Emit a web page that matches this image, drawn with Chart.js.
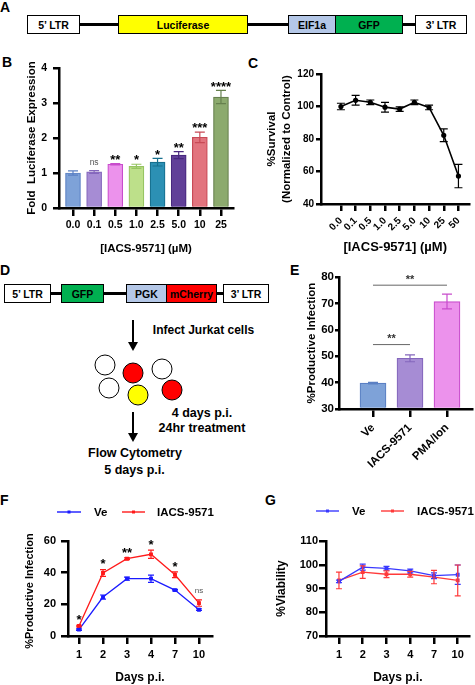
<!DOCTYPE html>
<html><head><meta charset="utf-8">
<script src="https://cdn.jsdelivr.net/npm/chart.js@4.4.0/dist/chart.umd.min.js"></script>
<style>
html,body{margin:0;padding:0;background:#fff;width:475px;height:685px;overflow:hidden;}
body{position:relative;font-family:'Liberation Sans',Arial,Helvetica,sans-serif;color:#000;}
canvas{position:absolute;}
.plab{position:absolute;font-weight:bold;font-size:14px;line-height:14px;}
.box{position:absolute;box-sizing:border-box;border:1.3px solid #000;display:flex;align-items:center;justify-content:center;font-weight:bold;font-size:10.5px;height:19px;white-space:nowrap;}
.ln{position:absolute;background:#000;}
.txt{position:absolute;font-weight:bold;font-size:12.5px;line-height:14px;white-space:nowrap;transform:translate(-50%,-50%);}
.circ{position:absolute;border:1.2px solid #000;border-radius:50%;box-sizing:border-box;width:21px;height:21px;transform:translate(-50%,-50%);}
.head{position:absolute;width:0;height:0;border-left:5px solid transparent;border-right:5px solid transparent;border-top:9px solid #000;}
</style></head><body>

<!-- Panel letters -->
<div class="plab" style="left:0;top:0">A</div>
<div class="plab" style="left:2px;top:55px">B</div>
<div class="plab" style="left:248px;top:56px">C</div>
<div class="plab" style="left:0;top:263px">D</div>
<div class="plab" style="left:290px;top:263px">E</div>
<div class="plab" style="left:0;top:493px">F</div>
<div class="plab" style="left:265px;top:493px">G</div>

<!-- Panel A construct -->
<div class="ln" style="left:80px;top:22.5px;width:335px;height:3px"></div>
<div class="box" style="left:27px;top:15px;width:53px;background:#fff">5’ LTR</div>
<div class="box" style="left:118px;top:15px;width:130px;background:#ffff00">Luciferase</div>
<div class="box" style="left:288px;top:15px;width:48px;background:#b4c7e7">EIF1a</div>
<div class="box" style="left:335px;top:15px;width:68px;background:#00b050">GFP</div>
<div class="box" style="left:415px;top:15px;width:52px;background:#fff">3’ LTR</div>

<!-- Panel D construct and workflow -->
<div class="ln" style="left:51px;top:291.5px;width:172px;height:3px"></div>
<div class="box" style="left:4px;top:284px;width:47px;background:#fff">5’ LTR</div>
<div class="box" style="left:61px;top:284px;width:43px;background:#00b050">GFP</div>
<div class="box" style="left:126px;top:284px;width:41px;background:#b4c7e7">PGK</div>
<div class="box" style="left:166px;top:284px;width:51px;background:#ff0000">mCherry</div>
<div class="box" style="left:223px;top:284px;width:46px;background:#fff">3’ LTR</div>

<div class="ln" style="left:132.2px;top:320px;width:2.2px;height:24px"></div>
<div class="head" style="left:128.3px;top:342px"></div>
<div class="txt" style="left:203.5px;top:330px;font-size:12px">Infect Jurkat cells</div>

<div class="circ" style="left:105px;top:365px;background:#fff"></div>
<div class="circ" style="left:133px;top:373px;background:#ff0000"></div>
<div class="circ" style="left:162px;top:369px;background:#fff"></div>
<div class="circ" style="left:109px;top:388px;background:#fff"></div>
<div class="circ" style="left:138px;top:395px;background:#ffff00"></div>
<div class="circ" style="left:172px;top:390px;background:#ff0000"></div>

<div class="txt" style="left:202px;top:413px">4 days p.i.</div>
<div class="txt" style="left:202px;top:428px">24hr treatment</div>
<div class="ln" style="left:132.2px;top:412px;width:2.2px;height:23px"></div>
<div class="head" style="left:128.3px;top:433px"></div>
<div class="txt" style="left:135px;top:453px">Flow Cytometry</div>
<div class="txt" style="left:134.5px;top:470px">5 days p.i.</div>

<script>
// ================= DATA =================
const B_LABELS = ['0.0','0.1','0.5','1.0','2.5','5.0','10','25'];
const B_VALUES = [1.00, 1.03, 1.25, 1.19, 1.31, 1.51, 2.02, 3.17];
const B_ERRORS = [0.06, 0.04, 0.02, 0.06, 0.11, 0.10, 0.15, 0.19];
const B_SIG    = ['', 'ns', '**', '*', '*', '**', '***', '****'];
const B_FILL   = ['#7ea2d8','#a68cd4','#ec92ec','#bde08a','#2c90b4','#614098','#e2747e','#8caa6e'];
const B_EDGE   = ['#5b80c4','#8466bc','#c84ccc','#96c462','#17708f','#48287e','#c84a56','#66804e'];

const C_LABELS = ['0.0','0.1','0.5','1.0','2.5','5.0','10','25','50'];
const C_VALUES = [100.0, 103.8, 102.6, 99.6, 98.4, 102.6, 99.4, 82.3, 57.2];
const C_ERRORS = [2.0, 3.0, 1.4, 3.0, 1.4, 1.4, 1.4, 3.9, 7.2];

const E_LABELS = ['Ve','IACS-9571','PMA/Ion'];
const E_VALUES = [39.8, 49.2, 70.7];
const E_ERRORS = [0.25, 1.3, 2.8];
const E_FILL   = ['#7ea2d8','#a68cd4','#ec92ec'];
const E_EDGE   = ['#5b80c4','#8466bc','#c84ccc'];
const E_BRACKET_FROM  = [0, 0];
const E_BRACKET_TO    = [1, 2];
const E_BRACKET_Y     = [54.4, 76.9];
const E_BRACKET_LABEL = ['**', '**'];

const DAYS = ['1','2','3','4','7','10'];
const F_VE       = [4.0, 24.6, 36.2, 36.2, 29.0, 16.6];
const F_VE_ERR   = [0.5, 1.3, 1.0, 2.3, 0.5, 0.5];
const F_IACS     = [6.3, 39.8, 48.8, 51.6, 38.7, 20.8];
const F_IACS_ERR = [0.5, 2.1, 0.5, 2.6, 1.8, 2.0];
const F_SIG      = ['*','*','**','*','*','ns'];

const G_VE       = [93.0, 99.0, 98.5, 97.4, 95.4, 95.8];
const G_VE_ERR   = [0.5, 1.3, 0.8, 0.8, 1.2, 4.1];
const G_IACS     = [93.4, 96.9, 96.0, 96.0, 94.8, 93.4];
const G_IACS_ERR = [3.5, 2.6, 1.4, 1.2, 2.8, 6.5];

// ================= HELPERS =================
const FONT = "'Liberation Sans', Arial, Helvetica, sans-serif";
Chart.defaults.font.family = FONT;
Chart.defaults.color = '#000';
Chart.defaults.animation = false;

function mkCanvas(L, T, W, H) {
  const c = document.createElement('canvas');
  c.width = W; c.height = H;
  c.style.left = L + 'px'; c.style.top = T + 'px';
  c.style.width = W + 'px'; c.style.height = H + 'px';
  document.body.appendChild(c);
  return c;
}
const pts = (vals) => vals.map((v, i) => ({x: i, y: v}));

function xAxis(o) {
  return {
    type: 'linear', min: o.min, max: o.max, offset: false,
    afterBuildTicks(s) { s.ticks = o.labels.map((_, i) => ({value: i})); },
    afterFit(s) { s.height = o.h; },
    ticks: {autoSkip: false, maxRotation: o.rot || 0, minRotation: o.rot || 0, padding: o.pad,
            font: {size: o.fs, weight: 'bold'}, color: '#000', callback: (v, i) => o.labels[i]},
    grid: {display: true, offset: false, drawOnChartArea: false, drawTicks: true, tickLength: o.tl,
           tickWidth: o.bw, lineWidth: o.bw, tickColor: '#000', color: '#000'},
    border: {display: true, width: o.bw, color: '#000'},
    title: o.title ? {display: true, text: o.title, color: '#000',
                      font: {size: o.tfs, weight: 'bold', lineHeight: 1.2}, padding: {top: 0, bottom: o.tpad}}
                   : {display: false}
  };
}
function yAxis(o) {
  return {
    type: 'linear', min: o.min, max: o.max,
    afterFit(s) { s.width = o.w; },
    ticks: {stepSize: o.step, padding: o.pad, font: {size: o.fs, weight: 'bold'}, color: '#000'},
    grid: {display: true, drawOnChartArea: false, drawTicks: true, tickLength: o.tl,
           tickWidth: o.bw, lineWidth: o.bw, tickColor: '#000', color: '#000'},
    border: {display: true, width: o.bw, color: '#000'},
    title: o.title ? {display: true, text: o.title, color: '#000',
                      font: {size: o.tfs, weight: 'bold', lineHeight: o.tlh || 1.2}, padding: {top: o.tpad, bottom: 0}}
                   : {display: false}
  };
}
function valOf(d) { return (d && typeof d === 'object') ? d.y : d; }

function errorBarPlugin(cap, lw) {
  return { id: 'errbars', afterDatasetsDraw(chart) {
    const ctx = chart.ctx, ys = chart.scales.y;
    chart.data.datasets.forEach((ds, i) => {
      if (!ds.errors) return;
      chart.getDatasetMeta(i).data.forEach((el, j) => {
        const v = valOf(ds.data[j]), e = ds.errors[j];
        const yt = ys.getPixelForValue(v + e), yb = ys.getPixelForValue(v - e), x = el.x;
        ctx.save();
        ctx.strokeStyle = Array.isArray(ds.errColor) ? ds.errColor[j] : ds.errColor;
        ctx.lineWidth = lw;
        ctx.beginPath();
        ctx.moveTo(x, yt); ctx.lineTo(x, yb);
        ctx.moveTo(x - cap, yt); ctx.lineTo(x + cap, yt);
        ctx.moveTo(x - cap, yb); ctx.lineTo(x + cap, yb);
        ctx.stroke(); ctx.restore();
      });
    });
  }};
}
function sigPlugin(o) {
  return { id: 'sig', afterDatasetsDraw(chart) {
    const ctx = chart.ctx, ys = chart.scales.y;
    chart.data.datasets.forEach((ds, i) => {
      if (!ds.sig) return;
      chart.getDatasetMeta(i).data.forEach((el, j) => {
        const t = ds.sig[j]; if (!t) return;
        const top = ys.getPixelForValue(valOf(ds.data[j]) + (ds.errors ? ds.errors[j] : 0));
        ctx.save(); ctx.textAlign = 'center'; ctx.textBaseline = 'alphabetic';
        if (t === 'ns') {
          ctx.font = `${o.nsSize}px ${FONT}`; ctx.fillStyle = '#555';
          ctx.fillText(t, el.x, top - o.nsOff);
        } else {
          ctx.font = `bold ${o.size}px ${FONT}`; ctx.fillStyle = '#000';
          ctx.fillText(t, el.x, top - o.gap + 0.44 * o.size);
        }
        ctx.restore();
      });
    });
  }};
}
function bracketPlugin(o) {
  return { id: 'brackets', afterDatasetsDraw(chart) {
    const ctx = chart.ctx, xs = chart.scales.x, ys = chart.scales.y;
    E_BRACKET_Y.forEach((yv, k) => {
      const x1 = xs.getPixelForValue(E_BRACKET_FROM[k]), x2 = xs.getPixelForValue(E_BRACKET_TO[k]);
      const y = ys.getPixelForValue(yv);
      ctx.save();
      ctx.strokeStyle = '#666'; ctx.lineWidth = 1;
      ctx.beginPath(); ctx.moveTo(x1, y); ctx.lineTo(x2, y); ctx.stroke();
      ctx.font = `bold ${o.size}px ${FONT}`; ctx.fillStyle = '#333';
      ctx.textAlign = 'center'; ctx.textBaseline = 'alphabetic';
      ctx.fillText(E_BRACKET_LABEL[k], (x1 + x2) / 2, y - o.gap);
      ctx.restore();
    });
  }};
}
function lineLegendPlugin(o) {
  return { id: 'lineLegend', afterDraw(chart) {
    const ctx = chart.ctx;
    o.items.forEach((it, i) => {
      const ds = chart.data.datasets[i];
      ctx.save();
      ctx.strokeStyle = ds.borderColor; ctx.lineWidth = 1.4;
      ctx.beginPath(); ctx.moveTo(it.l1, o.y); ctx.lineTo(it.l2, o.y); ctx.stroke();
      ctx.fillStyle = ds.borderColor;
      ctx.fillRect((it.l1 + it.l2) / 2 - 1.5, o.y - 1.5, 3, 3);
      ctx.fillStyle = '#000'; ctx.font = `bold ${o.size}px ${FONT}`;
      ctx.textAlign = 'left'; ctx.textBaseline = 'middle';
      ctx.fillText(ds.label, it.tx, o.y + 0.5);
      ctx.restore();
    });
  }};
}
function vTitlePlugin(o) {
  return { id: 'vtitle', afterDraw(chart) {
    const ctx = chart.ctx;
    ctx.save(); ctx.translate(o.x, o.y); ctx.rotate(-Math.PI / 2);
    ctx.font = `bold ${o.size}px ${FONT}`; ctx.fillStyle = '#000';
    ctx.textAlign = 'center'; ctx.textBaseline = 'middle';
    ctx.fillText(o.text, 0, 0); ctx.restore();
  }};
}
const baseOpts = (pad) => ({
  responsive: false, devicePixelRatio: 1, animation: false,
  layout: {padding: pad},
  plugins: {legend: {display: false}, tooltip: {enabled: false}}
});

// ================= PANEL B =================
(function () {
  const c = mkCanvas(0, 50, 240, 210);
  const o = baseOpts({left: 0, top: 18, right: 7, bottom: 0});
  o.scales = {
    x: xAxis({labels: B_LABELS, min: -0.662, max: 7.569, h: 52, tl: 8, pad: 3, fs: 10.5, bw: 2.5,
              title: '[IACS-9571] (µM)', tfs: 11.5, tpad: 4}),
    y: yAxis({min: 0, max: 4, step: 1, w: 59, tl: 6, pad: 6, fs: 10.5, bw: 2.5,
              title: 'Fold  Luciferase Expression', tfs: 11.5, tpad: 25})
  };
  new Chart(c, {
    type: 'bar',
    data: {datasets: [{data: pts(B_VALUES), errors: B_ERRORS, errColor: B_EDGE, sig: B_SIG,
                       backgroundColor: B_FILL, borderColor: B_EDGE, borderWidth: 1.2, barThickness: 15}]},
    options: o,
    plugins: [errorBarPlugin(5, 1.2), sigPlugin({size: 13, gap: 5.5, nsSize: 8.5, nsOff: 5.5})]
  });
})();

// ================= PANEL C =================
(function () {
  const c = mkCanvas(240, 50, 235, 210);
  const o = baseOpts({left: 0, top: 24, right: 5, bottom: 0});
  o.scales = {
    x: xAxis({labels: C_LABELS, min: -1.356, max: 8.746, h: 56, tl: 7, pad: 4, fs: 10, bw: 2.5, rot: 45,
              title: '[IACS-9571] (µM)', tfs: 13, tpad: 5}),
    y: yAxis({min: 40, max: 120, step: 20, w: 81, tl: 5, pad: 2, fs: 10, bw: 2.5,
              title: ['%Survival', '(Normalized to Control)'], tfs: 11.5, tlh: 1.3, tpad: 24.5})
  };
  new Chart(c, {
    type: 'line',
    data: {datasets: [{data: pts(C_VALUES), errors: C_ERRORS, errColor: '#000',
                       borderColor: '#000', backgroundColor: '#000', borderWidth: 1.6,
                       pointRadius: 1.8, tension: 0}]},
    options: o,
    plugins: [errorBarPlugin(4, 1.2)]
  });
})();

// ================= PANEL E =================
(function () {
  const c = mkCanvas(280, 262, 195, 216);
  const o = baseOpts({left: 0, top: 15, right: 3, bottom: 0});
  o.scales = {
    x: xAxis({labels: E_LABELS, min: -0.919, max: 2.676, h: 69, tl: 8, pad: 4, fs: 11.5, bw: 2.5, rot: 45}),
    y: yAxis({min: 30, max: 80, step: 10, w: 59, tl: 4, pad: 1, fs: 11.5, bw: 2.5,
              title: '%Productive Infection', tfs: 11.5, tpad: 25})
  };
  new Chart(c, {
    type: 'bar',
    data: {datasets: [{data: pts(E_VALUES), errors: E_ERRORS, errColor: E_EDGE, base: 30,
                       backgroundColor: E_FILL, borderColor: E_EDGE, borderWidth: 1.2, barThickness: 26}]},
    options: o,
    plugins: [errorBarPlugin(5, 1.2), bracketPlugin({size: 11, gap: 2.6})]
  });
})();

// ================= PANEL F =================
(function () {
  const c = mkCanvas(0, 480, 240, 205);
  const o = baseOpts({left: 0, top: 61, right: 28, bottom: 0});
  o.scales = {
    x: xAxis({labels: DAYS, min: -0.458, max: 5.542, h: 49, tl: 8, pad: 4, fs: 11, bw: 2.5,
              title: 'Days p.i.', tfs: 12, tpad: 0}),
    y: yAxis({min: 0, max: 60, step: 20, w: 68, tl: 7, pad: 5, fs: 11, bw: 2.5})
  };
  new Chart(c, {
    type: 'line',
    data: {datasets: [
      {label: 'Ve', data: pts(F_VE), errors: F_VE_ERR, errColor: '#1a1aff',
       borderColor: '#1a1aff', backgroundColor: '#1a1aff', borderWidth: 1.3,
       pointStyle: 'rect', pointRadius: 1.8, tension: 0},
      {label: 'IACS-9571', data: pts(F_IACS), errors: F_IACS_ERR, errColor: '#ff1a1a', sig: F_SIG,
       borderColor: '#ff1a1a', backgroundColor: '#ff1a1a', borderWidth: 1.3,
       pointStyle: 'rect', pointRadius: 1.8, tension: 0}
    ]},
    options: o,
    plugins: [errorBarPlugin(3, 1.2), sigPlugin({size: 13, gap: 7, nsSize: 8, nsOff: 6.5}),
              lineLegendPlugin({y: 32, size: 11.5, items: [{l1: 57, l2: 81, tx: 94}, {l1: 122, l2: 145, tx: 157}]}),
              vTitlePlugin({x: 30, y: 111, size: 11, text: '%Productive Infection'})]
  });
})();

// ================= PANEL G =================
(function () {
  const c = mkCanvas(240, 480, 235, 205);
  const o = baseOpts({left: 0, top: 61, right: 5, bottom: 0});
  o.scales = {
    x: xAxis({labels: DAYS, min: -0.546, max: 5.504, h: 49, tl: 8, pad: 4, fs: 11, bw: 2.5,
              title: 'Days p.i.', tfs: 12, tpad: 0}),
    y: yAxis({min: 70, max: 110, step: 10, w: 86, tl: 7, pad: 1, fs: 11, bw: 2.5,
              title: '%Viability', tfs: 12, tpad: 34.8})
  };
  new Chart(c, {
    type: 'line',
    data: {datasets: [
      {label: 'Ve', data: pts(G_VE), errors: G_VE_ERR, errColor: '#3a3aff',
       borderColor: '#3a3aff', backgroundColor: '#3a3aff', borderWidth: 1.3,
       pointStyle: 'rect', pointRadius: 1.8, tension: 0},
      {label: 'IACS-9571', data: pts(G_IACS), errors: G_IACS_ERR, errColor: '#ff3a3a',
       borderColor: '#ff3a3a', backgroundColor: '#ff3a3a', borderWidth: 1.3,
       pointStyle: 'rect', pointRadius: 1.8, tension: 0}
    ]},
    options: o,
    plugins: [errorBarPlugin(3, 1.2),
              lineLegendPlugin({y: 31, size: 11.5, items: [{l1: 76, l2: 99, tx: 112}, {l1: 141, l2: 164, tx: 177}]})]
  });
})();
</script>
</body></html>
